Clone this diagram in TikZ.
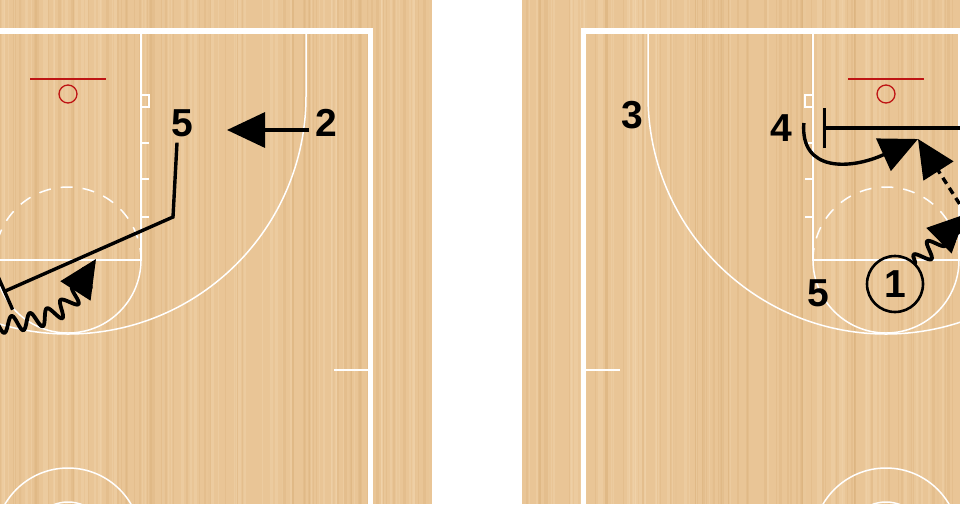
\documentclass[tikz,border=0pt]{standalone}
\usepackage{fontspec}
\setmainfont{Liberation Sans}
\usetikzlibrary{arrows.meta,decorations.pathmorphing,positioning}

\definecolor{wood}{RGB}{233,197,150}
\definecolor{woodgrain}{RGB}{214,168,112}
\definecolor{woodlight}{RGB}{244,216,178}
\definecolor{rimred}{RGB}{190,20,20}

\tikzset{
  court/.style={draw=white, line width=2pt},
  thinline/.style={court, line width=1.5pt},
  player/.style={font=\fontsize{39}{39}\selectfont\bfseries, inner sep=0pt, outer sep=6pt},
  move/.style={line width=3.4pt, -{Triangle[length=38pt,width=35pt]}},
  pass/.style={move, dash pattern=on 7pt off 5pt},
  dribble/.style={move, line width=3.8pt, line join=round, decorate,
    decoration={snake, amplitude=8pt, segment length=19pt, post length=4pt}},
  screen/.style={line width=3.4pt, -{Bar[width=40pt]}},
  halfcourt/.pic={
    % baseline and sideline
    \draw[court, line width=5.5pt, line join=miter] (-340,-65) -- (302.5,-65) -- (302.5,470);
    % lane
    \draw[court] (-73,-65) rectangle (73,164);
    \foreach \s in {1,-1}{
      \draw[thinline] (73*\s,-1) -- (81*\s,-1) -- (81*\s,11) -- (73*\s,11);
      \foreach \t in {47,83,121}
        \draw[thinline] (73*\s,\t) -- (81*\s,\t);
    }
    % free throw circle
    \draw[thinline, dash pattern=on 12pt off 10pt] (73,164) arc[start angle=0, end angle=180, radius=73pt];
    \draw[thinline] (-73,164) arc[start angle=180, end angle=360, radius=73pt];
    % three point line
    \draw[thinline] (238,-65) -- (238,0) arc[start angle=0, end angle=-180, radius=238pt] -- (-238,-65);
    % coaching box and center circle
    \draw[thinline] (266,274) -- (302,274);
    \draw[thinline] (0,445) circle[radius=73pt];
    \draw[thinline] (0,445) circle[radius=39pt];
    % backboard and rim
    \draw[rimred, line width=1.5pt] (-38,-17) -- (38,-17);
    \draw[rimred, line width=1.3pt] (0,-2) circle[radius=9pt];
  }
}

\begin{document}
\begin{tikzpicture}[x=1pt, y=-1pt]
\useasboundingbox (0,0) rectangle (960,504);
\clip (0,0) rectangle (960,504);

% floor
\fill[wood] (0,0) rectangle (432,504);
\fill[wood] (522,0) rectangle (960,504);
\pgfmathsetseed{7}
\foreach \i in {1,...,70}{
  \pgfmathsetmacro\gx{rnd*430}
  \pgfmathsetmacro\gw{0.6+2.5*rnd}
  \fill[woodgrain, opacity=0.22] (\gx,0) rectangle ++(\gw,504);
  \pgfmathsetmacro\gx{rnd*430}
  \fill[woodlight, opacity=0.35] (\gx,0) rectangle ++(\gw,504);
  \pgfmathsetmacro\gx{522+rnd*436}
  \fill[woodgrain, opacity=0.22] (\gx,0) rectangle ++(\gw,504);
  \pgfmathsetmacro\gx{522+rnd*436}
  \fill[woodlight, opacity=0.35] (\gx,0) rectangle ++(\gw,504);
}

% courts
\pic at (68,96) {halfcourt};
\pic[xscale=-1] at (886,96) {halfcourt};

% left diagram
\node[player] (p5) at (182,123) {5};
\node[player] (p2) at (326,123) {2};
\coordinate (c2) at (227,130);
\coordinate (c5a) at (173,217);
\coordinate (c5b) at (3,292);
\coordinate (c1a) at (-12,327);
\coordinate (c1b) at (96,259);
\draw[move] (p2.west |- c2) -- (c2);
\draw[screen] ([xshift=-5pt]p5.south) -- (c5a) -- (c5b);
\draw[dribble] (c1a) .. controls (58,318) .. (c1b);

% right diagram
\node[player] (p3) at (632,115) {3};
\node[player] (p4) at (781,128) {4};
\node[player] (p5r) at (818,293) {5};
\node[player, draw, circle, outer sep=0pt, line width=2.6pt, minimum size=56pt] (p1) at (895,284) {1};
\coordinate (c4s) at (975,128);
\coordinate (c4e) at (823,128);
\coordinate (cx) at (918,139);
\coordinate (c1e) at (966,214);
\draw[screen] (c4s) -- (c4e);
\draw[move] ([shift={(6,-5)}]p4.east) .. controls (800,172) and (850,170) .. (cx);
\draw[dribble] (p1) -- (c1e);
\draw[pass] (c1e) -- (cx);
\end{tikzpicture}
\end{document}
